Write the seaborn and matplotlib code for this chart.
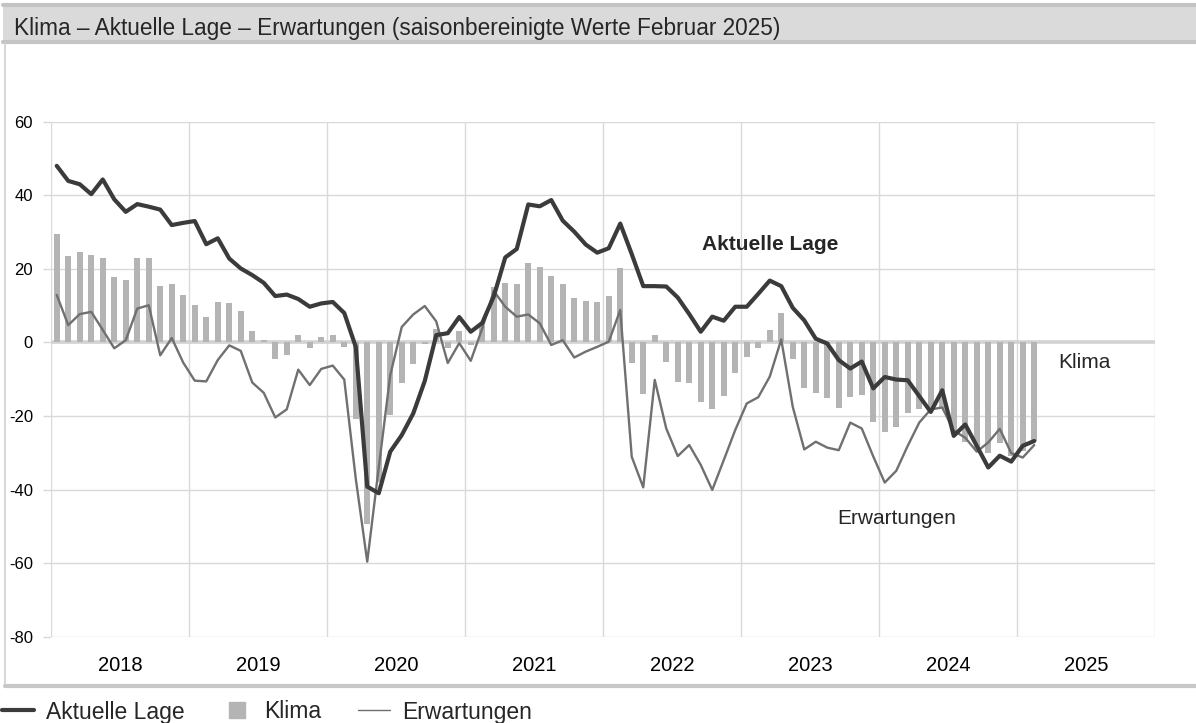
import numpy as np
import pandas as pd
import matplotlib
matplotlib.use("Agg")
import matplotlib.pyplot as plt
import seaborn as sns
from matplotlib.patches import Rectangle
from matplotlib.lines import Line2D

# Monatswerte Januar 2018 bis Februar 2025
jahre = ["2018", "2019", "2020", "2021", "2022", "2023", "2024", "2025"]

aktuelle_lage = [
    48.0, 43.9, 43.0, 40.3, 44.3, 38.9, 35.5, 37.6, 36.9, 36.1, 31.9, 32.5,
    33.0, 26.7, 28.3, 22.8, 20.1, 18.3, 16.2, 12.6, 13.0, 11.8, 9.7, 10.6,
    11.0, 8.0, -1.2, -39.2, -41.0, -29.7, -25.2, -19.3, -10.5, 2.0, 2.5, 6.9,
    2.9, 5.3, 12.5, 23.1, 25.4, 37.5, 37.0, 38.7, 33.1, 30.1, 26.6, 24.4,
    25.6, 32.3, 24.0, 15.3, 15.3, 15.2, 12.2, 7.7, 2.9, 7.0, 5.9, 9.7,
    9.7, 13.2, 16.8, 15.3, 9.4, 6.0, 1.0, -0.3, -4.8, -7.1, -5.2, -12.5,
    -9.4, -10.1, -10.3, -14.6, -18.9, -13.0, -25.4, -22.3, -28.1, -34.0, -30.8, -32.4,
    -28.1, -26.8,
]

klima = [
    29.6, 23.5, 24.5, 23.7, 22.9, 17.7, 17.1, 22.9, 22.9, 15.4, 15.9, 12.9,
    10.1, 7.0, 11.0, 10.6, 8.5, 3.1, 0.6, -4.6, -3.3, 2.0, -1.4, 1.4,
    2.0, -1.2, -20.7, -49.4, -38.0, -19.8, -11.0, -5.9, -0.5, 3.6, -1.5, 3.2,
    -0.7, 4.5, 15.1, 16.2, 15.9, 21.7, 20.4, 18.0, 16.0, 12.2, 11.3, 11.1,
    12.5, 20.1, -5.5, -14.0, 2.0, -5.2, -10.7, -11.0, -16.1, -18.0, -14.5, -8.3,
    -3.9, -1.4, 3.4, 7.9, -4.4, -12.3, -13.7, -15.2, -17.7, -14.8, -14.4, -21.7,
    -24.3, -23.0, -19.1, -18.0, -17.8, -18.2, -24.0, -27.0, -29.0, -30.1, -27.4, -30.8,
    -29.5, -26.8,
]

erwartungen = [
    12.9, 4.7, 7.7, 8.3, 3.4, -1.6, 0.6, 9.2, 10.1, -3.5, 1.2, -5.5,
    -10.4, -10.6, -4.8, -0.8, -2.3, -10.9, -13.7, -20.4, -18.2, -7.4, -11.6, -7.2,
    -6.3, -10.1, -37.0, -59.6, -34.0, -8.9, 4.2, 7.6, 9.9, 5.7, -5.6, -0.2,
    -5.0, 3.8, 14.0, 9.7, 7.0, 7.6, 5.2, -0.7, 0.6, -4.1, -2.5, -1.2,
    0.2, 8.8, -31.1, -39.4, -10.2, -23.4, -30.9, -27.9, -33.3, -40.1, -32.0, -23.8,
    -16.6, -14.9, -9.3, 0.8, -17.5, -29.1, -27.0, -28.6, -29.3, -21.8, -23.4, -31.0,
    -38.1, -34.9, -28.1, -21.8, -18.2, -17.7, -24.0, -25.9, -29.7, -27.2, -23.5, -30.1,
    -31.3, -27.9,
]

df = pd.DataFrame({
    "monat": np.arange(len(klima)),
    "klima": klima,
    "lage": aktuelle_lage,
    "erw": erwartungen,
})

c_lage = "#3b3b3b"
c_erw = "#707070"
c_bar = "#b4b4b4"
c_grid = "#d9d9d9"

sns.set_theme(style="white")
plt.rcParams["font.family"] = ["Liberation Sans", "DejaVu Sans"]
plt.rcParams["axes.unicode_minus"] = False

W, H = 1196, 723
fig = plt.figure(figsize=(W / 100, H / 100), dpi=100)
ax = fig.add_axes([51 / W, 86.3 / H, 1104 / W, 515 / H])

# Balken und Linien
sns.barplot(data=df, x="monat", y="klima", native_scale=True, width=0.48,
            color=c_bar, saturation=1, errorbar=None, ax=ax, zorder=2,
            linewidth=0, edgecolor="none")
sns.lineplot(data=df, x="monat", y="erw", color=c_erw, lw=1.7, ax=ax, zorder=3)
sns.lineplot(data=df, x="monat", y="lage", color=c_lage, lw=3.0, ax=ax, zorder=4)
ax.axhline(0, color="#d2d2d2", lw=2.6, zorder=1)

ax.set_xlim(-0.5, 95.5)
ax.set_ylim(-80, 60)
ax.set_xlabel("")
ax.set_ylabel("")
for s in ax.spines.values():
    s.set_visible(False)

ax.set_yticks(range(-80, 61, 20))
ax.set_xticks([-0.5 + 12 * i for i in range(9)])
ax.set_xticklabels([])
ax.set_xticks([5.5 + 12 * i for i in range(8)], minor=True)
ax.set_xticklabels(jahre, minor=True)
ax.grid(True, which="major", color=c_grid, lw=1.0, zorder=0)
ax.set_axisbelow(True)
ax.tick_params(axis="y", length=6, width=1, color=c_grid, pad=7, labelsize=12,
               labelcolor="black", left=True)
ax.tick_params(axis="x", which="both", length=0, pad=14, labelsize=14.5,
               labelcolor="black")

# Beschriftungen im Diagramm
ax.text(62.0, 26.7, "Aktuelle Lage", fontsize=15, fontweight="bold",
        ha="center", va="center")
ax.text(87.1, -5.4, "Klima", fontsize=15, ha="left", va="center")
ax.text(67.9, -48.0, "Erwartungen", fontsize=15, ha="left", va="center")

# Titelleiste und Rahmen
fig.add_artist(Rectangle((3 / W, 1 - 43 / H), 1, 38 / H, transform=fig.transFigure,
                         facecolor="#dadada", edgecolor="none"))
fig.add_artist(Line2D([3 / W, 1], [1 - 5 / H, 1 - 5 / H], transform=fig.transFigure,
                      color="#c4c4c4", lw=3))
fig.add_artist(Line2D([3 / W, 1], [1 - 42 / H, 1 - 42 / H], transform=fig.transFigure,
                      color="#c4c4c4", lw=3))
fig.text(14 / W, 1 - 29 / H, "Klima \u2013 Aktuelle Lage \u2013 Erwartungen (saisonbereinigte Werte Februar 2025)",
         fontsize=16.3, ha="left", va="center")
fig.add_artist(Line2D([5 / W, 5 / W], [1 - 43 / H, 1 - 686 / H], transform=fig.transFigure,
                      color="#d0d0d0", lw=1.2))
fig.add_artist(Line2D([5 / W, 1], [1 - 686 / H, 1 - 686 / H], transform=fig.transFigure,
                      color="#c8c8c8", lw=3))

# Legende
handles = [
    Line2D([], [], color=c_lage, lw=3),
    Line2D([], [], color=c_bar, marker="s", ls="none", markersize=12),
    Line2D([], [], color=c_erw, lw=1),
]
fig.legend(handles, ["Aktuelle Lage", "Klima", "Erwartungen"], loc="center left",
           bbox_to_anchor=(2 / W, 1 - 712 / H), ncol=3, frameon=False, fontsize=16.5,
           handlelength=1.4, handletextpad=0.5, columnspacing=1.6,
           borderaxespad=0, borderpad=0)

fig.savefig("out.png", dpi=100)
